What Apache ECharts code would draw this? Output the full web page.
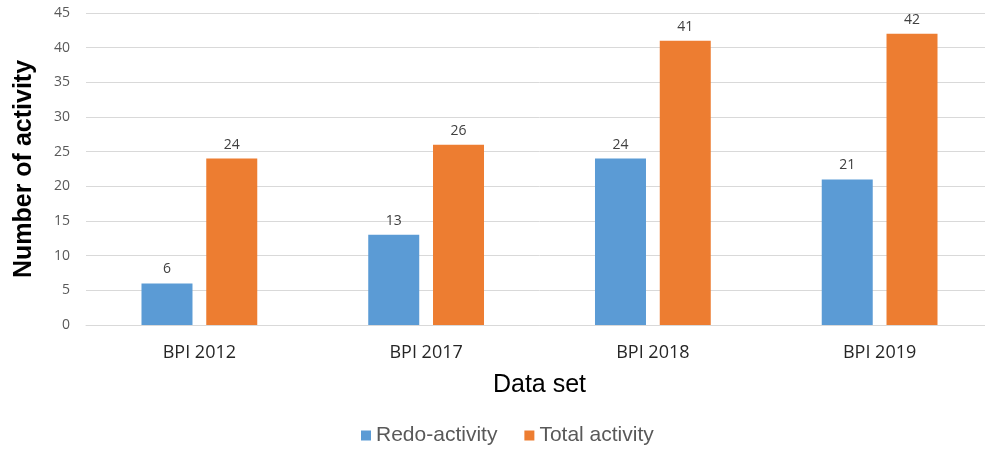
<!DOCTYPE html>
<html>
<head>
<meta charset="utf-8">
<script src="https://cdn.jsdelivr.net/npm/echarts@6/dist/echarts.min.js"></script>
<style>
  html, body { margin: 0; padding: 0; background: #ffffff; overflow: hidden; }
  /* the plot runs slightly past the right edge of the window */
  #chart { width: 993px; height: 449px; }
</style>
</head>
<body>
<div id="chart"></div>
<script>
// Activity counts per BPI challenge data set
const datasets = ['BPI 2012', 'BPI 2017', 'BPI 2018', 'BPI 2019'];
const redoActivity = [6, 13, 24, 21];
const totalActivity = [24, 26, 41, 42];
const seriesNames = ['Redo-activity', 'Total activity'];

const chart = echarts.init(document.getElementById('chart'), null, { renderer: 'canvas' });

const labelStyle = {
  show: true,
  position: 'top',
  distance: 7,
  fontFamily: 'Open Sans',
  fontSize: 14,
  color: '#404040'
};

chart.setOption({
  animation: false,
  backgroundColor: '#ffffff',
  grid: { left: 86, top: 13, right: 0, bottom: 124, containLabel: false },
  legend: {
    data: seriesNames,
    left: 356,
    top: 420,
    itemWidth: 10,
    itemHeight: 10,
    itemGap: 27,
    icon: 'rect',
    textStyle: { fontFamily: 'Liberation Sans', fontSize: 21, color: '#595959' }
  },
  xAxis: {
    type: 'category',
    data: datasets,
    name: 'Data set',
    nameLocation: 'middle',
    nameGap: 48,
    nameTextStyle: { fontFamily: 'Liberation Sans', fontSize: 25, color: '#000000' },
    axisLine: { lineStyle: { color: '#d9d9d9', width: 1 } },
    axisTick: { show: false },
    axisLabel: { margin: 19, fontFamily: 'Open Sans', fontSize: 18, color: '#262626' }
  },
  yAxis: {
    type: 'value',
    min: 0,
    max: 45,
    interval: 5,
    name: 'Number of activity',
    nameLocation: 'middle',
    nameGap: 49,
    nameTextStyle: { fontFamily: 'Liberation Sans', fontSize: 25, fontWeight: 'bold', color: '#000000' },
    axisLine: { show: false },
    axisTick: { show: false },
    splitLine: { lineStyle: { color: '#d9d9d9', width: 1 } },
    axisLabel: { margin: 16, fontFamily: 'Open Sans', fontSize: 14, color: '#595959' }
  },
  series: [
    {
      name: seriesNames[0],
      type: 'bar',
      data: redoActivity,
      barWidth: 51,
      barGap: '27%',
      itemStyle: { color: '#5b9bd5' },
      label: labelStyle
    },
    {
      name: seriesNames[1],
      type: 'bar',
      data: totalActivity,
      barWidth: 51,
      barGap: '27%',
      itemStyle: { color: '#ed7d31' },
      label: labelStyle
    }
  ]
});
</script>
</body>
</html>
